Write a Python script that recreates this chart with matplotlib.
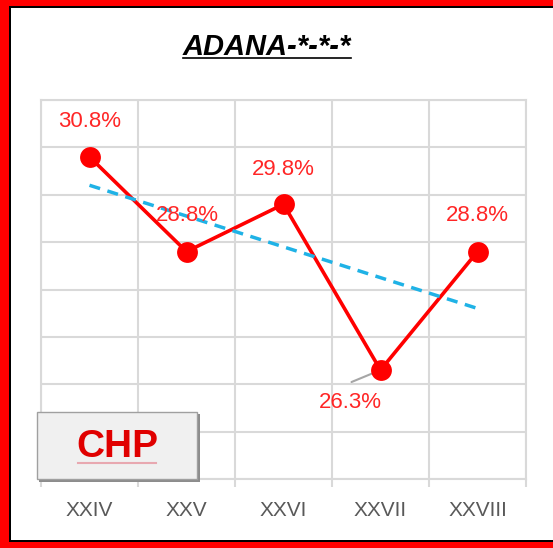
import matplotlib
matplotlib.use("Agg")
import matplotlib.pyplot as plt
from matplotlib.patches import Rectangle
from matplotlib.lines import Line2D
import numpy as np

plt.rcParams["font.family"] = ["Liberation Sans", "DejaVu Sans"]

# --- DATA ---
title = "ADANA-*-*-*"
party = "CHP"
categories = ["XXIV", "XXV", "XXVI", "XXVII", "XXVIII"]
values = [30.8, 28.8, 29.8, 26.3, 28.8]
label_offsets = [(0, 35), (1, 36), (0, 35), (-30, -32), (0, 36)]  # pixels

W, H = 553, 548
fig = plt.figure(figsize=(W / 100, H / 100), dpi=100)
fig.patch.set_facecolor("#FF0000")


def px_rect(x0, y0, x1, y1, **kw):
    # rectangle given in pixel coords, y measured from top
    return Rectangle((x0 / W, 1 - y1 / H), (x1 - x0) / W, (y1 - y0) / H,
                     transform=fig.transFigure, **kw)


# frame: red outside, thin black line, white inside
fig.patches.append(px_rect(9, 6, W + 5, 542, facecolor="black", linewidth=0, zorder=-2))
fig.patches.append(px_rect(11, 8, W + 5, 540, facecolor="white", linewidth=0, zorder=-1))

ax = fig.add_axes([41 / W, 1 - 479 / H, 485 / W, 379 / H])
ax.set_facecolor("none")
ax.set_zorder(1)

x = np.arange(len(categories))
grid_c = "#D9D9D9"

ax.plot(x, values, color="#FF0000", lw=2.6, marker="o", ms=15,
        markerfacecolor="#FF0000", markeredgewidth=0, zorder=3)

# linear trendline (Excel style)
k, b = np.polyfit(x + 1, values, 1)
ax.plot(x, k * (x + 1) + b, color="#1FB2E6", lw=2.5, ls=(0, (3.2, 2.2)), zorder=4)

for xi, v, (dx, dy) in zip(x, values, label_offsets):
    ax.annotate(f"{v:.1f}%", (xi, v), xytext=(dx, dy), textcoords="offset pixels",
                ha="center", va="center", fontsize=16, color="#FF2626", zorder=5)
# leader line for the label placed below
ax.annotate("", (x[3], values[3]), xytext=(-29, -12), textcoords="offset pixels",
            arrowprops=dict(arrowstyle="-", color="#A6A6A6", lw=1.5,
                            shrinkA=0, shrinkB=0), zorder=2)

ax.set_xlim(-0.5, len(categories) - 0.5)
ax.set_ylim(24, 32)
ax.set_yticks(np.arange(24, 33, 1))
ax.set_yticklabels([])
ax.set_xticks(x)
ax.set_xticklabels(categories)
ax.set_xticks(np.arange(-0.5, len(categories), 1), minor=True)
ax.tick_params(axis="x", which="major", length=0, pad=16, labelsize=15, labelcolor="#595959")
ax.tick_params(axis="x", which="minor", length=6, width=1.5, color=grid_c)
ax.tick_params(axis="y", length=0)
ax.grid(True, which="minor", axis="x", color=grid_c, lw=1.5, zorder=0)
ax.grid(True, which="major", axis="y", color=grid_c, lw=1.5, zorder=0)
for s in ax.spines.values():
    s.set_color(grid_c)
    s.set_linewidth(1.5)
ax.set_axisbelow(True)

# title with underline
t = fig.text(267 / W, 1 - 47 / H, title, ha="center", va="center",
             fontsize=21, fontweight="bold", fontstyle="italic", color="black")

# CHP badge (drawn above the axes)
fig.patches.append(px_rect(39, 414, 200, 482, facecolor="#8C8C8C", linewidth=0, zorder=5))
fig.patches.append(px_rect(37, 412, 197, 479, facecolor="#F0F0F0",
                           edgecolor="#A0A0A0", linewidth=1.0, zorder=6))
c = fig.text(117 / W, 1 - 447 / H, party, ha="center", va="center", fontsize=28,
             fontweight="bold", color="#E00000", zorder=7)

fig.canvas.draw()
r = fig.canvas.get_renderer()
bb = t.get_window_extent(r)
fig.add_artist(Line2D([bb.x0 / W, bb.x1 / W], [(H - 58) / H] * 2, color="black", lw=1.2,
                      transform=fig.transFigure))
bb = c.get_window_extent(r)
fig.add_artist(Line2D([(bb.x0 + 2) / W, (bb.x1 - 2) / W], [(H - 463) / H] * 2,
                      color="#E8A8B0", lw=1.5, transform=fig.transFigure, zorder=8))

fig.savefig("out.png", dpi=100, facecolor=fig.get_facecolor())
